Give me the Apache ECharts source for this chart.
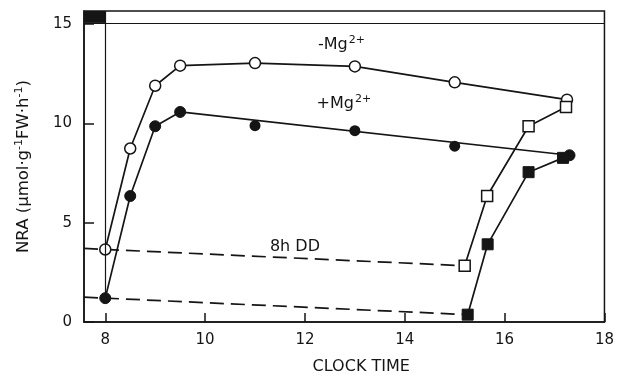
<!DOCTYPE html>
<html>
<head>
<meta charset="utf-8">
<script src="https://cdn.jsdelivr.net/npm/echarts@6/dist/echarts.min.js"></script>
<style>
html,body{margin:0;padding:0;background:#fff;}
#c{width:617px;height:380px;}
</style>
</head>
<body>
<div id="c"></div>
<script>
// ---- data ----
const xTicks = [8, 10, 12, 14, 16, 18];
const yTicks = [0, 5, 10, 15];
const xMin = 7.574, xMax = 18, yMin = 0, yMax = 15.65;
const lightsOn = 8;        // clock time of light/dark boundary
const bandBottom = 15.05;  // lower edge of the light/dark bar

// -Mg2+ (open circles)
const minusMgX = [8, 8.5, 9, 9.5, 11, 13, 15, 17.25];
const minusMgY = [3.65, 8.73, 11.89, 12.9, 13.03, 12.86, 12.06, 11.19];
// +Mg2+ (filled circles): connected points and line
const plusMgX = [8, 8.5, 9, 9.5, 17.3];
const plusMgY = [1.2, 6.34, 9.85, 10.57, 8.39];
// +Mg2+ scattered points (not on the line)
const plusMgPtsX = [11, 13, 15];
const plusMgPtsY = [9.88, 9.63, 8.85];
// after 8h DD: -Mg2+ (open squares)
const ddMinusX = [15.2, 15.65, 16.48, 17.23];
const ddMinusY = [2.83, 6.34, 9.85, 10.82];
// after 8h DD: +Mg2+ (filled squares)
const ddPlusX = [15.26, 15.66, 16.48, 17.17];
const ddPlusY = [0.37, 3.91, 7.54, 8.26];
// dashed dark-period lines
const dashMinusX = [xMin, 15.2];
const dashMinusY = [3.7, 2.83];
const dashPlusX = [xMin, 15.26];
const dashPlusY = [1.25, 0.37];
// annotations
const notes = [
  {x: 12.73, y: 13.95, text: '{m|-Mg}{s|2+}'},
  {x: 12.78, y: 11.0, text: '{m|+Mg}{s|2+}'},
  {x: 11.8, y: 3.8, text: '{d|8h DD}'}
];

const zip = (xs, ys) => xs.map((x, i) => [x, ys[i]]);
const INK = '#151515';
const FONT = 'DejaVu Sans';
const LW = 1.7;

const lineBase = {
  type: 'line',
  showSymbol: true,
  symbolSize: 11,
  lineStyle: {color: INK, width: LW},
  animation: false,
  z: 3
};

const chart = echarts.init(document.getElementById('c'), null, {renderer: 'canvas'});
chart.setOption({
  backgroundColor: '#fff',
  animation: false,
  grid: {left: 84, right: 6.5, top: 11, bottom: 57, show: true, borderColor: INK, borderWidth: 1.5, backgroundColor: 'transparent'},
  xAxis: {
    type: 'value', min: xMin, max: xMax,
    name: 'CLOCK TIME', nameLocation: 'middle', nameGap: 37,
    nameTextStyle: {fontFamily: FONT, fontSize: 16, color: INK, padding: [0, 0, 0, 34]},
    axisLine: {show: true, lineStyle: {color: INK, width: 1.5}},
    axisTick: {show: true, inside: true, length: 9, customValues: xTicks, lineStyle: {color: INK, width: 1.5}},
    axisLabel: {customValues: xTicks, fontFamily: FONT, fontSize: 15, color: INK, margin: 11},
    splitLine: {show: false}
  },
  yAxis: {
    type: 'value', min: yMin, max: yMax,
    name: 'NRA ({u|μ}mol·g{s|-1}FW·h{s|-1})', nameLocation: 'middle', nameGap: 50, nameRotate: 90,
    nameTextStyle: {fontFamily: FONT, fontSize: 16.5, color: INK,
      rich: {u: {fontFamily: FONT, fontSize: 16.5, color: INK}, s: {fontFamily: FONT, fontSize: 11, color: INK, padding: [0, 0, 9, 0]}}},
    axisLine: {show: true, lineStyle: {color: INK, width: 1.5}},
    axisTick: {show: true, inside: true, length: 10, customValues: yTicks, lineStyle: {color: INK, width: 1.5}},
    axisLabel: {customValues: yTicks, fontFamily: FONT, fontSize: 15, color: INK, margin: 12},
    splitLine: {show: false}
  },
  series: [
    Object.assign({}, lineBase, {
      name: 'dashMinus', data: zip(dashMinusX, dashMinusY), showSymbol: false, symbol: 'none',
      lineStyle: {color: INK, width: LW, type: [14, 7]}, z: 2,
      markArea: {silent: true, itemStyle: {color: INK, opacity: 1},
        data: [[{coord: [xMin, bandBottom]}, {coord: [lightsOn, yMax]}]]},
      markLine: {silent: true, symbol: 'none', label: {show: false}, animation: false,
        lineStyle: {color: INK, width: 1.2, type: 'solid', opacity: 1},
        data: [
          [{coord: [lightsOn, plusMgY[0]]}, {coord: [lightsOn, yMax]}],
          [{coord: [xMin, bandBottom]}, {coord: [xMax, bandBottom]}]
        ]}
    }),
    Object.assign({}, lineBase, {
      name: 'dashPlus', data: zip(dashPlusX, dashPlusY), showSymbol: false, symbol: 'none',
      lineStyle: {color: INK, width: LW, type: [14, 7]}, z: 2
    }),
    Object.assign({}, lineBase, {
      name: '-Mg', data: zip(minusMgX, minusMgY), symbol: 'circle',
      itemStyle: {color: '#fff', borderColor: INK, borderWidth: 1.5, opacity: 1}
    }),
    Object.assign({}, lineBase, {
      name: '+Mg', data: zip(plusMgX, plusMgY), symbol: 'circle',
      itemStyle: {color: INK, borderColor: INK, borderWidth: 1, opacity: 1}
    }),
    {
      type: 'scatter', name: '+Mg pts', data: zip(plusMgPtsX, plusMgPtsY), symbol: 'circle', symbolSize: 11,
      itemStyle: {color: INK, opacity: 1}, z: 4, animation: false
    },
    Object.assign({}, lineBase, {
      name: 'DD -Mg', data: zip(ddMinusX, ddMinusY), symbol: 'rect', symbolSize: 11,
      itemStyle: {color: '#fff', borderColor: INK, borderWidth: 1.5, opacity: 1}, z: 4
    }),
    Object.assign({}, lineBase, {
      name: 'DD +Mg', data: zip(ddPlusX, ddPlusY), symbol: 'rect', symbolSize: 11,
      itemStyle: {color: INK, borderColor: INK, borderWidth: 1, opacity: 1}, z: 4
    }),
    {
      type: 'scatter', name: 'notes', symbolSize: 0, animation: false, silent: true, z: 5,
      itemStyle: {opacity: 1},
      data: notes.map(n => ({value: [n.x, n.y], label: {formatter: n.text}})),
      label: {show: true, position: 'inside', color: INK, opacity: 1,
        rich: {
          m: {fontFamily: FONT, fontSize: 16, color: INK},
          s: {fontFamily: FONT, fontSize: 11, color: INK, padding: [0, 0, 9, 1]},
          d: {fontFamily: FONT, fontSize: 16, color: INK}
        }}
    }
  ]
});
</script>
</body>
</html>
